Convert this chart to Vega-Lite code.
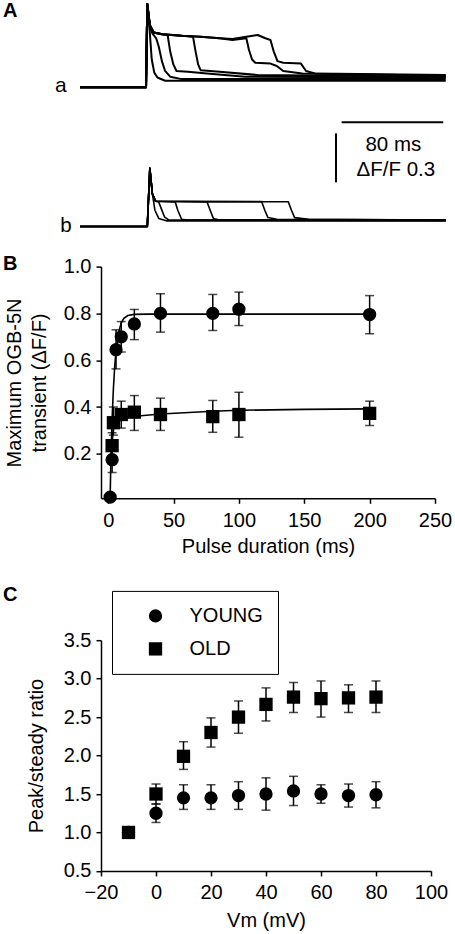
{
  "$schema": "https://vega.github.io/schema/vega-lite/v6.json",
  "background": "white",
  "padding": {"left": 3, "top": 1, "right": 0, "bottom": 0},
  "bounds": "flush",
  "spacing": 141.6,
  "resolve": {"scale": {"shape": "independent"}, "legend": {"shape": "independent"}},
  "config": {
    "view": {"stroke": null},
    "font": "Liberation Sans",
    "axis": {"labelFont": "Liberation Sans", "titleFont": "Liberation Sans", "labelFontSize": 20, "titleFontSize": 20, "titleFontWeight": "normal", "labelColor": "black", "titleColor": "black", "domainColor": "black", "tickColor": "black", "domainWidth": 1.5, "tickWidth": 1.5, "tickSize": 5, "grid": false, "labelFlush": false, "labelOverlap": false, "labelSeparation": 0},
    "axisX": {"labelPadding": 7},
    "axisY": {"labelPadding": 5},
    "title": {"anchor": "start", "frame": "group", "fontSize": 20, "fontWeight": "bold", "font": "Liberation Sans", "color": "black", "offset": 0, "baseline": "alphabetic"},
    "legend": {"labelFont": "Liberation Sans"}
  },
  "vconcat": [
    {
      "width": 345, "height": 121,
      "title": {"text": "A", "dx": -98, "dy": 22},
      "resolve": {"scale": {"y": "independent"}},
      "layer": [
        {
          "layer": [
            {
              "data": {"values": [
                {"tr":"a1","t":0,"v":0},{"tr":"a1","t":52,"v":0},{"tr":"a1","t":53,"v":0.51},{"tr":"a1","t":55,"v":0.33},{"tr":"a1","t":56.5,"v":0.17},{"tr":"a1","t":58.5,"v":0.09},{"tr":"a1","t":61,"v":0.06},{"tr":"a1","t":67,"v":0.04},{"tr":"a1","t":288,"v":0.04},
                {"tr":"a2","t":0,"v":0},{"tr":"a2","t":52,"v":0},{"tr":"a2","t":53,"v":0.51},{"tr":"a2","t":55,"v":0.37},{"tr":"a2","t":57,"v":0.33},{"tr":"a2","t":60,"v":0.3},{"tr":"a2","t":62,"v":0.25},{"tr":"a2","t":64.5,"v":0.16},{"tr":"a2","t":67,"v":0.1},{"tr":"a2","t":71,"v":0.065},{"tr":"a2","t":80,"v":0.05},{"tr":"a2","t":288,"v":0.05},
                {"tr":"a3","t":0,"v":0},{"tr":"a3","t":52,"v":0},{"tr":"a3","t":53,"v":0.51},{"tr":"a3","t":55,"v":0.38},{"tr":"a3","t":58,"v":0.335},{"tr":"a3","t":64,"v":0.325},{"tr":"a3","t":69,"v":0.32},{"tr":"a3","t":71,"v":0.22},{"tr":"a3","t":73.5,"v":0.14},{"tr":"a3","t":76,"v":0.1},{"tr":"a3","t":85,"v":0.095},{"tr":"a3","t":100,"v":0.085},{"tr":"a3","t":130,"v":0.065},{"tr":"a3","t":288,"v":0.06},
                {"tr":"a4","t":0,"v":0},{"tr":"a4","t":52,"v":0},{"tr":"a4","t":53,"v":0.51},{"tr":"a4","t":55,"v":0.38},{"tr":"a4","t":58,"v":0.335},{"tr":"a4","t":65,"v":0.325},{"tr":"a4","t":80,"v":0.315},{"tr":"a4","t":89,"v":0.31},{"tr":"a4","t":91,"v":0.22},{"tr":"a4","t":93,"v":0.14},{"tr":"a4","t":95,"v":0.105},{"tr":"a4","t":110,"v":0.095},{"tr":"a4","t":140,"v":0.075},{"tr":"a4","t":288,"v":0.065},
                {"tr":"a5","t":0,"v":0},{"tr":"a5","t":52,"v":0},{"tr":"a5","t":53,"v":0.51},{"tr":"a5","t":55,"v":0.38},{"tr":"a5","t":58,"v":0.335},{"tr":"a5","t":65,"v":0.325},{"tr":"a5","t":80,"v":0.315},{"tr":"a5","t":95,"v":0.31},{"tr":"a5","t":110,"v":0.3},{"tr":"a5","t":120,"v":0.29},{"tr":"a5","t":131,"v":0.3},{"tr":"a5","t":133,"v":0.23},{"tr":"a5","t":135.5,"v":0.17},{"tr":"a5","t":138,"v":0.15},{"tr":"a5","t":150,"v":0.145},{"tr":"a5","t":155,"v":0.13},{"tr":"a5","t":160,"v":0.1},{"tr":"a5","t":175,"v":0.085},{"tr":"a5","t":288,"v":0.07},
                {"tr":"a6","t":0,"v":0},{"tr":"a6","t":52,"v":0},{"tr":"a6","t":53,"v":0.51},{"tr":"a6","t":55,"v":0.38},{"tr":"a6","t":58,"v":0.335},{"tr":"a6","t":65,"v":0.325},{"tr":"a6","t":80,"v":0.315},{"tr":"a6","t":95,"v":0.31},{"tr":"a6","t":110,"v":0.3},{"tr":"a6","t":120,"v":0.295},{"tr":"a6","t":131,"v":0.31},{"tr":"a6","t":140,"v":0.32},{"tr":"a6","t":146,"v":0.3},{"tr":"a6","t":150,"v":0.29},{"tr":"a6","t":152.5,"v":0.22},{"tr":"a6","t":155.5,"v":0.16},{"tr":"a6","t":160,"v":0.15},{"tr":"a6","t":174,"v":0.145},{"tr":"a6","t":178,"v":0.1},{"tr":"a6","t":185,"v":0.085},{"tr":"a6","t":288,"v":0.075}
              ]},
              "mark": {"type": "line", "color": "black", "strokeWidth": 2, "strokeJoin": "round"},
              "encoding": {
                "x": {"field": "t", "type": "quantitative", "scale": {"domain": [16.54, 288.2], "nice": false, "zero": false}, "axis": null},
                "y": {"field": "v", "type": "quantitative", "scale": {"domain": [-0.231, 0.51], "nice": false, "zero": false}, "axis": null},
                "detail": {"field": "tr"}
              }
            },
            {
              "data": {"values": [{"label": "a", "t": -10.5, "v": -0.031}]},
              "mark": {"type": "text", "fontSize": 21, "align": "right", "baseline": "alphabetic", "color": "black"},
              "encoding": {
                "x": {"field": "t", "type": "quantitative", "scale": {"domain": [16.54, 288.2], "nice": false, "zero": false}, "axis": null},
                "y": {"field": "v", "type": "quantitative", "scale": {"domain": [-0.231, 0.51], "nice": false, "zero": false}, "axis": null},
                "text": {"field": "label"}
              }
            }
          ]
        },
        {
          "layer": [
            {
              "data": {"values": [
                {"tr":"b1","t":0,"v":0},{"tr":"b1","t":53,"v":0},{"tr":"b1","t":55,"v":0.357},{"tr":"b1","t":57,"v":0.2},{"tr":"b1","t":59,"v":0.1},{"tr":"b1","t":62,"v":0.05},{"tr":"b1","t":68,"v":0.035},{"tr":"b1","t":288,"v":0.035},
                {"tr":"b2","t":0,"v":0},{"tr":"b2","t":53,"v":0},{"tr":"b2","t":55,"v":0.357},{"tr":"b2","t":57,"v":0.2},{"tr":"b2","t":59.5,"v":0.155},{"tr":"b2","t":62,"v":0.15},{"tr":"b2","t":64,"v":0.11},{"tr":"b2","t":66.5,"v":0.06},{"tr":"b2","t":70,"v":0.04},{"tr":"b2","t":288,"v":0.04},
                {"tr":"b3","t":0,"v":0},{"tr":"b3","t":53,"v":0},{"tr":"b3","t":55,"v":0.357},{"tr":"b3","t":57,"v":0.2},{"tr":"b3","t":59.5,"v":0.155},{"tr":"b3","t":75,"v":0.15},{"tr":"b3","t":77,"v":0.1},{"tr":"b3","t":80,"v":0.045},{"tr":"b3","t":85,"v":0.04},{"tr":"b3","t":288,"v":0.037},
                {"tr":"b4","t":0,"v":0},{"tr":"b4","t":53,"v":0},{"tr":"b4","t":55,"v":0.357},{"tr":"b4","t":57,"v":0.2},{"tr":"b4","t":59.5,"v":0.155},{"tr":"b4","t":100,"v":0.152},{"tr":"b4","t":102.5,"v":0.1},{"tr":"b4","t":105,"v":0.05},{"tr":"b4","t":110,"v":0.04},{"tr":"b4","t":288,"v":0.038},
                {"tr":"b5","t":0,"v":0},{"tr":"b5","t":53,"v":0},{"tr":"b5","t":55,"v":0.357},{"tr":"b5","t":57,"v":0.2},{"tr":"b5","t":59.5,"v":0.155},{"tr":"b5","t":100,"v":0.153},{"tr":"b5","t":143,"v":0.153},{"tr":"b5","t":145.5,"v":0.1},{"tr":"b5","t":148,"v":0.055},{"tr":"b5","t":155,"v":0.045},{"tr":"b5","t":288,"v":0.04},
                {"tr":"b6","t":0,"v":0},{"tr":"b6","t":53,"v":0},{"tr":"b6","t":55,"v":0.357},{"tr":"b6","t":57,"v":0.2},{"tr":"b6","t":59.5,"v":0.155},{"tr":"b6","t":100,"v":0.153},{"tr":"b6","t":164,"v":0.152},{"tr":"b6","t":166.5,"v":0.1},{"tr":"b6","t":169,"v":0.055},{"tr":"b6","t":180,"v":0.045},{"tr":"b6","t":288,"v":0.04}
              ]},
              "mark": {"type": "line", "color": "black", "strokeWidth": 1.6, "strokeJoin": "round"},
              "encoding": {
                "x": {"field": "t", "type": "quantitative", "scale": {"domain": [16.54, 288.2], "nice": false, "zero": false}, "axis": null},
                "y": {"field": "v", "type": "quantitative", "scale": {"domain": [0.622, 1.363], "nice": false, "zero": false}, "axis": null},
                "detail": {"field": "tr"}
              }
            },
            {
              "data": {"values": [{"t": 206, "t2": 286, "v": 0.639, "v2": 0.639}, {"t": 201.6, "t2": 201.6, "v": 0.571, "v2": 0.271}]},
              "mark": {"type": "rule", "color": "black", "strokeWidth": 2},
              "encoding": {
                "x": {"field": "t", "type": "quantitative", "scale": {"domain": [16.54, 288.2], "nice": false, "zero": false}, "axis": null},
                "x2": {"field": "t2"},
                "y": {"field": "v", "type": "quantitative", "scale": {"domain": [0.622, 1.363], "nice": false, "zero": false}, "axis": null},
                "y2": {"field": "v2"}
              }
            },
            {
              "data": {"values": [{"label": "b", "t": -11, "v": -0.035, "al": "right"}, {"label": "80 ms", "t": 246.7, "v": 0.465, "al": "center"}, {"label": "ΔF/F 0.3", "t": 248.7, "v": 0.312, "al": "center"}]},
              "mark": {"type": "text", "fontSize": 20.5, "baseline": "alphabetic", "color": "black"},
              "encoding": {
                "x": {"field": "t", "type": "quantitative", "scale": {"domain": [16.54, 288.2], "nice": false, "zero": false}, "axis": null},
                "y": {"field": "v", "type": "quantitative", "scale": {"domain": [0.622, 1.363], "nice": false, "zero": false}, "axis": null},
                "text": {"field": "label"},
                "align": {"field": "al", "type": "nominal", "scale": null}
              }
            }
          ]
        }
      ]
    },
    {
      "width": 334, "height": 231.7,
      "title": {"text": "B", "dx": -98, "dy": 21.5},
      "layer": [
        {
          "data": {"values": [
            {"g":"YOUNG","x":1.5,"y":0.02},{"g":"YOUNG","x":2,"y":0.15},{"g":"YOUNG","x":3,"y":0.35},{"g":"YOUNG","x":4,"y":0.48},{"g":"YOUNG","x":5,"y":0.575},{"g":"YOUNG","x":6,"y":0.64},{"g":"YOUNG","x":8,"y":0.72},{"g":"YOUNG","x":10,"y":0.76},{"g":"YOUNG","x":12,"y":0.779},{"g":"YOUNG","x":15,"y":0.791},{"g":"YOUNG","x":20,"y":0.796},{"g":"YOUNG","x":30,"y":0.797},{"g":"YOUNG","x":200,"y":0.797},
            {"g":"OLD","x":2.5,"y":0.2},{"g":"OLD","x":3,"y":0.245},{"g":"OLD","x":3.5,"y":0.28},{"g":"OLD","x":4,"y":0.305},{"g":"OLD","x":5,"y":0.33},{"g":"OLD","x":7,"y":0.347},{"g":"OLD","x":10,"y":0.355},{"g":"OLD","x":15,"y":0.36},{"g":"OLD","x":25,"y":0.363},{"g":"OLD","x":40,"y":0.37},{"g":"OLD","x":80,"y":0.382},{"g":"OLD","x":100,"y":0.386},{"g":"OLD","x":150,"y":0.39},{"g":"OLD","x":200,"y":0.392}
          ]},
          "mark": {"type": "line", "color": "black", "strokeWidth": 1.6},
          "encoding": {
            "x": {"field": "x", "type": "quantitative", "scale": {"domain": [-5.5, 250], "nice": false, "zero": false}, "axis": {"values": [0, 50, 100, 150, 200, 250], "labelOverlap": false, "title": "Pulse duration (ms)", "titlePadding": 6}},
            "y": {"field": "y", "type": "quantitative", "scale": {"domain": [0.01, 1.0], "nice": false, "zero": false}, "axis": {"values": [0.2, 0.4, 0.6, 0.8, 1.0], "labelOverlap": false, "format": ".1f", "title": ["Maximum OGB-5N", "transient (ΔF/F)"], "titleLineHeight": 25, "titlePadding": 14}},
            "detail": {"field": "g"}
          }
        },
        {
          "data": {"name": "bpts"},
          "layer": [
            {
              "mark": {"type": "rule", "color": "black", "strokeWidth": 1.5},
              "encoding": {
                "x": {"field": "x", "type": "quantitative", "scale": {"domain": [-5.5, 250], "nice": false, "zero": false}},
                "y": {"field": "lo", "type": "quantitative", "scale": {"domain": [0.01, 1.0], "nice": false, "zero": false}},
                "y2": {"field": "hi"}
              }
            },
            {
              "mark": {"type": "tick", "orient": "horizontal", "color": "black", "size": 9, "thickness": 1.5},
              "encoding": {
                "x": {"field": "x", "type": "quantitative", "scale": {"domain": [-5.5, 250], "nice": false, "zero": false}},
                "y": {"field": "lo", "type": "quantitative", "scale": {"domain": [0.01, 1.0], "nice": false, "zero": false}}
              }
            },
            {
              "mark": {"type": "tick", "orient": "horizontal", "color": "black", "size": 9, "thickness": 1.5},
              "encoding": {
                "x": {"field": "x", "type": "quantitative", "scale": {"domain": [-5.5, 250], "nice": false, "zero": false}},
                "y": {"field": "hi", "type": "quantitative", "scale": {"domain": [0.01, 1.0], "nice": false, "zero": false}}
              }
            },
            {
              "mark": {"type": "point", "filled": true, "size": 177, "color": "black", "opacity": 1},
              "encoding": {
                "x": {"field": "x", "type": "quantitative", "scale": {"domain": [-5.5, 250], "nice": false, "zero": false}},
                "y": {"field": "y", "type": "quantitative", "scale": {"domain": [0.01, 1.0], "nice": false, "zero": false}},
                "shape": {"field": "g", "type": "nominal", "scale": {"domain": ["YOUNG", "OLD"], "range": ["circle", "square"]}, "legend": null}
              }
            }
          ]
        }
      ]
    },
    {
      "width": 330, "height": 230.7,
      "title": {"text": "C", "dx": -98, "dy": 18.7},
      "data": {"name": "cpts"},
      "encoding": {
        "x": {"field": "x", "type": "quantitative", "scale": {"domain": [-20, 100], "nice": false, "zero": false}, "axis": {"values": [-20, 0, 20, 40, 60, 80, 100], "labelOverlap": false, "title": "Vm (mV)", "titlePadding": 8}}
      },
      "layer": [
        {
          "mark": {"type": "rule", "color": "black", "strokeWidth": 1.5},
          "encoding": {
            "y": {"field": "lo", "type": "quantitative", "scale": {"domain": [0.5, 3.5], "nice": false, "zero": false}, "axis": {"values": [0.5, 1, 1.5, 2, 2.5, 3, 3.5], "tickCount": 7, "labelOverlap": false, "labelSeparation": 0, "format": ".1f", "title": "Peak/steady ratio", "titlePadding": 17}},
            "y2": {"field": "hi"}
          }
        },
        {
          "mark": {"type": "tick", "orient": "horizontal", "color": "black", "size": 9, "thickness": 1.5},
          "encoding": {
            "y": {"field": "lo", "type": "quantitative", "scale": {"domain": [0.5, 3.5], "nice": false, "zero": false}, "axis": {"values": [0.5, 1, 1.5, 2, 2.5, 3, 3.5], "tickCount": 7, "labelOverlap": false, "labelSeparation": 0, "format": ".1f", "title": "Peak/steady ratio", "titlePadding": 17}}
          }
        },
        {
          "mark": {"type": "tick", "orient": "horizontal", "color": "black", "size": 9, "thickness": 1.5},
          "encoding": {
            "y": {"field": "hi", "type": "quantitative", "scale": {"domain": [0.5, 3.5], "nice": false, "zero": false}, "axis": {"values": [0.5, 1, 1.5, 2, 2.5, 3, 3.5], "tickCount": 7, "labelOverlap": false, "labelSeparation": 0, "format": ".1f", "title": "Peak/steady ratio", "titlePadding": 17}}
          }
        },
        {
          "mark": {"type": "point", "filled": true, "size": 177, "color": "black", "opacity": 1},
          "encoding": {
            "y": {"field": "y", "type": "quantitative", "scale": {"domain": [0.5, 3.5], "nice": false, "zero": false}, "axis": {"values": [0.5, 1, 1.5, 2, 2.5, 3, 3.5], "tickCount": 7, "labelOverlap": false, "labelSeparation": 0, "format": ".1f", "title": "Peak/steady ratio", "titlePadding": 17}},
            "shape": {"field": "g", "type": "nominal", "scale": {"domain": ["YOUNG", "OLD"], "range": ["circle", "square"]},
              "legend": {"orient": "none", "legendX": 11, "legendY": -49.3, "title": null, "padding": 15, "strokeColor": "black", "labelFontSize": 20, "labelColor": "black", "symbolSize": 177, "symbolOffset": 18.5, "labelOffset": 24, "rowPadding": 13, "symbolFillColor": "black", "symbolStrokeColor": "black", "labelExpr": "datum.label + '    '"}}
          }
        }
      ]
    }
  ],
  "datasets": {
    "bpts": [
      {"g":"YOUNG","x":1.5,"y":0.015,"lo":0.015,"hi":0.015},
      {"g":"YOUNG","x":3,"y":0.175,"lo":0.12,"hi":0.23},
      {"g":"YOUNG","x":6,"y":0.645,"lo":0.563,"hi":0.73},
      {"g":"YOUNG","x":10,"y":0.70,"lo":0.635,"hi":0.765},
      {"g":"YOUNG","x":20,"y":0.755,"lo":0.688,"hi":0.817},
      {"g":"YOUNG","x":40,"y":0.80,"lo":0.72,"hi":0.884},
      {"g":"YOUNG","x":80,"y":0.80,"lo":0.727,"hi":0.881},
      {"g":"YOUNG","x":100,"y":0.818,"lo":0.748,"hi":0.891},
      {"g":"YOUNG","x":200,"y":0.795,"lo":0.713,"hi":0.876},
      {"g":"OLD","x":3,"y":0.235,"lo":0.18,"hi":0.29},
      {"g":"OLD","x":4,"y":0.333,"lo":0.28,"hi":0.40},
      {"g":"OLD","x":10,"y":0.368,"lo":0.31,"hi":0.425},
      {"g":"OLD","x":20,"y":0.378,"lo":0.30,"hi":0.449},
      {"g":"OLD","x":40,"y":0.368,"lo":0.30,"hi":0.438},
      {"g":"OLD","x":80,"y":0.359,"lo":0.292,"hi":0.428},
      {"g":"OLD","x":100,"y":0.368,"lo":0.271,"hi":0.463},
      {"g":"OLD","x":200,"y":0.373,"lo":0.321,"hi":0.425}
    ],
    "cpts": [
      {"g":"YOUNG","x":-10,"y":1.0,"lo":1.0,"hi":1.0},
      {"g":"YOUNG","x":0,"y":1.25,"lo":1.13,"hi":1.37},
      {"g":"YOUNG","x":10,"y":1.45,"lo":1.30,"hi":1.62},
      {"g":"YOUNG","x":20,"y":1.45,"lo":1.30,"hi":1.62},
      {"g":"YOUNG","x":30,"y":1.48,"lo":1.30,"hi":1.66},
      {"g":"YOUNG","x":40,"y":1.50,"lo":1.29,"hi":1.71},
      {"g":"YOUNG","x":50,"y":1.54,"lo":1.35,"hi":1.73},
      {"g":"YOUNG","x":60,"y":1.50,"lo":1.38,"hi":1.62},
      {"g":"YOUNG","x":70,"y":1.48,"lo":1.33,"hi":1.63},
      {"g":"YOUNG","x":80,"y":1.49,"lo":1.32,"hi":1.66},
      {"g":"OLD","x":-10,"y":1.0,"lo":1.0,"hi":1.0},
      {"g":"OLD","x":0,"y":1.50,"lo":1.37,"hi":1.63},
      {"g":"OLD","x":10,"y":1.99,"lo":1.82,"hi":2.18},
      {"g":"OLD","x":20,"y":2.30,"lo":2.11,"hi":2.49},
      {"g":"OLD","x":30,"y":2.50,"lo":2.29,"hi":2.71},
      {"g":"OLD","x":40,"y":2.665,"lo":2.45,"hi":2.88},
      {"g":"OLD","x":50,"y":2.76,"lo":2.56,"hi":2.95},
      {"g":"OLD","x":60,"y":2.74,"lo":2.50,"hi":2.97},
      {"g":"OLD","x":70,"y":2.75,"lo":2.56,"hi":2.92},
      {"g":"OLD","x":80,"y":2.76,"lo":2.56,"hi":2.97}
    ]
  }
}
